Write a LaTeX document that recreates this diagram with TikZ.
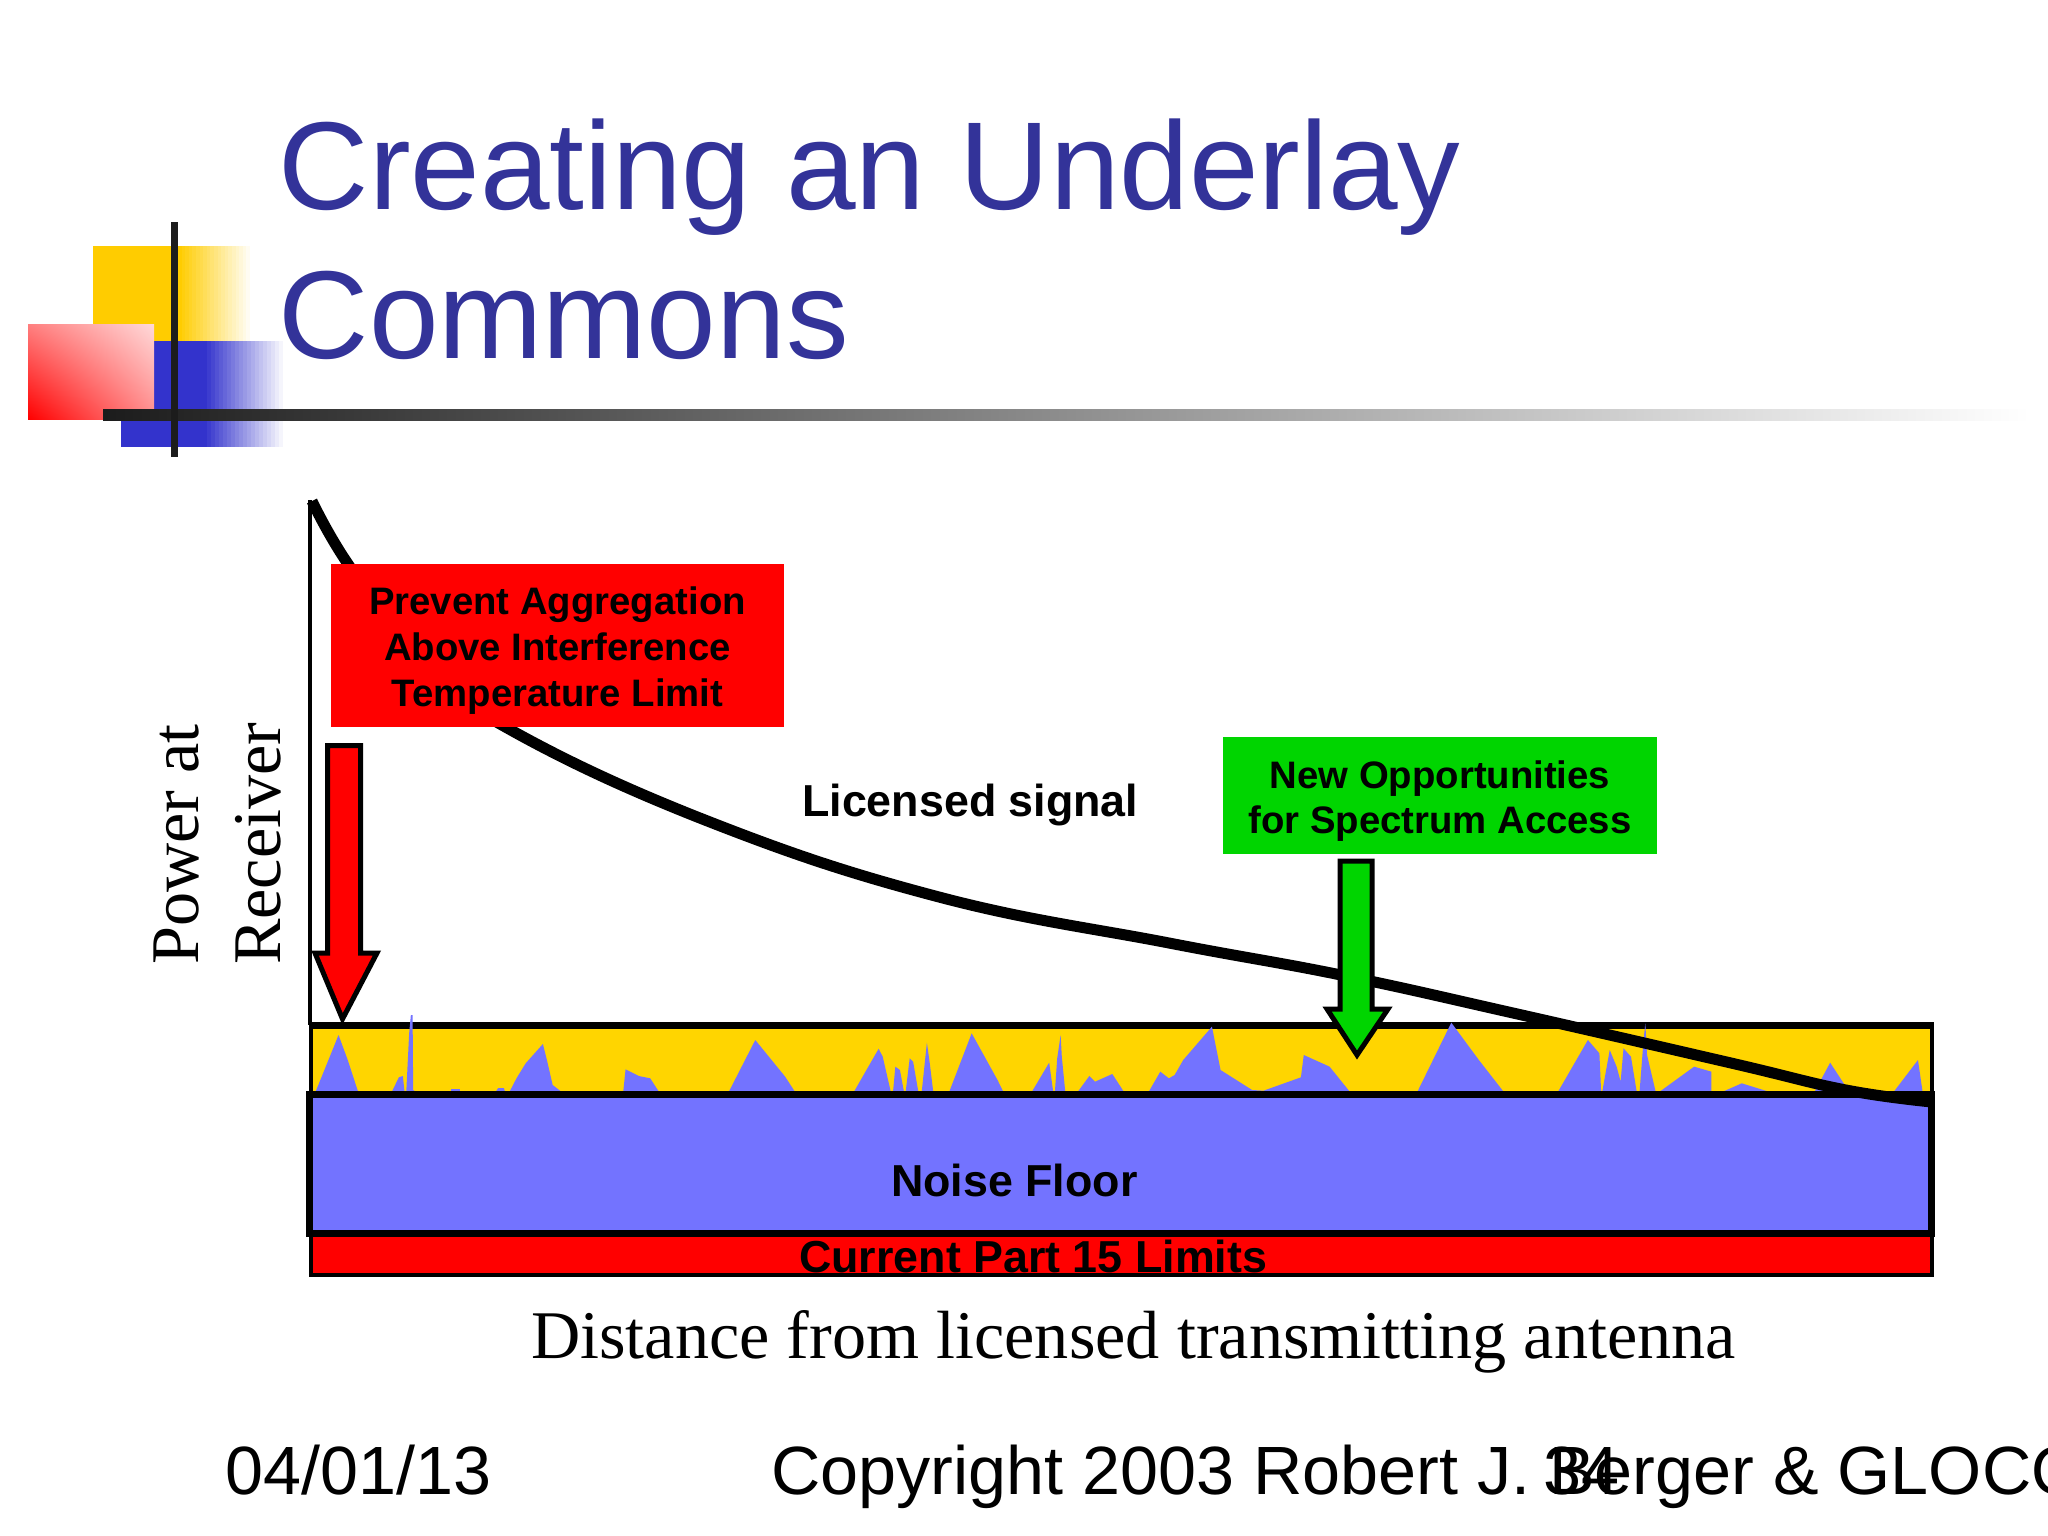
\documentclass[tikz,border=0pt]{standalone}
\usepackage{fontspec}
\usetikzlibrary{shadings}
\setmainfont{Liberation Sans}
\newfontfamily\timesf{Liberation Serif}
\definecolor{titleblue}{HTML}{333399}
\definecolor{logoyellow}{HTML}{FFCC00}
\definecolor{logoblue}{HTML}{3333CC}
\definecolor{logobar}{HTML}{1C1C1C}
\definecolor{bandyellow}{HTML}{FFD500}
\definecolor{noiseblue}{HTML}{7373FF}
\definecolor{boxgreen}{HTML}{00D500}
\definecolor{boxred}{HTML}{FF0000}
\tikzset{
  titletext/.style={anchor=base west,inner sep=0pt,text=titleblue,font=\fontsize{125.1}{150}\selectfont},
  foottext/.style={anchor=base west,inner sep=0pt,font=\fontsize{68.3}{80}\selectfont},
  seriftext/.style={anchor=base west,inner sep=0pt,font=\timesf\fontsize{68.2}{80}\selectfont},
  labeltext/.style={anchor=base west,inner sep=0pt,font=\bfseries\fontsize{44.8}{50}\selectfont},
  callout/.style={inner sep=0pt,align=center},
  peak/.style={fill=noiseblue,draw=none},
  blockarrow/.style={line width=5pt,miter limit=10},
  signalcurve/.style={line width=11pt},
}
\begin{document}
\begin{tikzpicture}[x=1pt,y=-1pt]
\useasboundingbox (0,0) rectangle (2048,1536);
\clip (0,0) rectangle (2048,1536);
\fill[white] (0,0) rectangle (2048,1536);
% logo
\fill[logoyellow] (93,246) rectangle (178,341);
\foreach \i in {0,...,20} {
  \pgfmathsetmacro{\px}{178+\i*3.6}
  \pgfmathsetmacro{\pc}{100-5*\i}
  \fill[logoyellow!\pc!white] (\px,246) rectangle (250,341);
}
\fill[logoblue] (121,341) rectangle (203,447);
\foreach \i in {0,...,20} {
  \pgfmathsetmacro{\px}{203+\i*4}
  \pgfmathsetmacro{\pc}{100-5*\i}
  \fill[logoblue!\pc!white] (\px,341) rectangle (283,447);
}
\shade[lower left=red,upper right=white!85!red,upper left=red!50!white,lower right=red!45!white] (28,324) rectangle (154,419);
\shade[left color=logobar,right color=white] (103,409) rectangle (2030,420);
\fill[logobar] (170.7,222) rectangle (177.7,457);
% title
\node[titletext] (title1) at (278.5,209) {Creating an Underlay};
\node[titletext] (title2) at (278.5,358) {Commons};
% axis
\draw[line width=4pt] (310,500) -- (310,1025);
% bands
\fill[bandyellow] (312,1025) rectangle (1931,1094);
\draw[line width=7pt] (312,1025.5) -- (1932,1025.5);
\draw[line width=4pt] (1931.5,1022) -- (1931.5,1094);
\draw[line width=4pt] (311,1022) -- (311,1094);
% peaks, left part
\begin{scope}[shift={(280,1000)},xscale=0.574,yscale=0.3333]
\fill[peak] (62,275)--(75,220)--(102,105)--(118,180)--(136,275)--cycle;
\fill[peak] (195,275)--(207,232)--(214,228)--(217,275)--cycle;
\fill[peak] (220,275)--(225,100)--(228,45)--(231,45)--(232,270)--(236,275)--cycle;
\fill[peak] (298,275)--(298,268)--(314,268)--(314,275)--cycle;
\fill[peak] (376,275)--(380,264)--(390,264)--(392,275)--cycle;
\fill[peak] (400,275)--(412,235)--(428,190)--(458,132)--(465,180)--(475,255)--(490,275)--cycle;
\fill[peak] (598,275)--(602,208)--(625,228)--(645,235)--(660,275)--cycle;
\fill[peak] (782,275)--(828,120)--(880,230)--(897,275)--cycle;
\fill[peak] (1000,275)--(1043,146)--(1050,170)--(1064,275)--cycle;
\fill[peak] (1068,275)--(1072,200)--(1080,210)--(1087,275)--cycle;
\fill[peak] (1090,275)--(1097,175)--(1103,185)--(1112,275)--cycle;
\fill[peak] (1118,275)--(1127,128)--(1132,190)--(1138,275)--cycle;
\fill[peak] (1166,275)--(1205,100)--(1250,240)--(1260,275)--cycle;
\fill[peak] (1310,275)--(1340,188)--(1347,275)--cycle;
\fill[peak] (1350,275)--(1354,175)--(1360,105)--(1362,170)--(1368,275)--cycle;
\fill[peak] (1390,275)--(1410,228)--(1420,245)--(1450,222)--(1470,275)--cycle;
\end{scope}
% peaks, right part
\begin{scope}[shift={(1100,1000)},xscale=0.574,yscale=0.3333]
\fill[peak] (85,275)--(105,215)--(120,235)--(130,225)--(145,180)--(195,80)--(210,210)--(265,270)--(285,272)--(350,232)--(355,165)--(400,200)--(435,275)--cycle;
\fill[peak] (553,275)--(612,68)--(660,180)--(703,275)--cycle;
\fill[peak] (798,275)--(850,120)--(870,160)--(873,275)--cycle;
\fill[peak] (875,275)--(888,150)--(900,200)--(907,245)--(912,145)--(925,170)--(935,275)--cycle;
\fill[peak] (940,275)--(947,120)--(950,70)--(953,165)--(968,275)--cycle;
\fill[peak] (975,275)--(1035,200)--(1065,215)--(1065,275)--cycle;
\fill[peak] (1085,275)--(1118,250)--(1165,275)--cycle;
\fill[peak] (1245,275)--(1272,188)--(1305,275)--cycle;
\fill[peak] (1383,275)--(1425,180)--(1433,275)--cycle;
\end{scope}
% red limit band and noise floor
\filldraw[fill=boxred,line width=4pt] (311,1233) rectangle (1931.5,1275);
\filldraw[fill=noiseblue,line width=7.5pt] (309.5,1094.5) rectangle (1931.5,1233.5);
% licensed signal curve
\draw[signalcurve] plot[smooth,tension=0.7] coordinates {(312,501) (348,564) (420,660) (509,729) (710,822) (939,897) (1169,943) (1341,975) (1513,1013) (1731,1063) (1846,1090) (1932,1102)};
% arrows
\filldraw[fill=boxred,blockarrow] (327.5,745.5) -- (360.5,745.5) -- (360.5,953) -- (377,953) -- (342.5,1019) -- (315,953) -- (327.5,953) -- cycle;
\filldraw[fill=boxgreen,blockarrow] (1340,861) -- (1372,861) -- (1372,1009) -- (1388,1009) -- (1357,1055) -- (1327,1009) -- (1340,1009) -- cycle;
% boxes
\node[callout,fill=boxred,minimum width=453pt,minimum height=163pt] (prevent) at (557.5,645.5) {};
\node[callout,font=\bfseries\fontsize{38.3}{46}\selectfont] (preventtext) at (557.5,650.5) {Prevent Aggregation\\Above Interference\\Temperature Limit};
\node[callout,fill=boxgreen,minimum width=434pt,minimum height=117pt] (newopp) at (1440,795.5) {};
\node[callout,font=\bfseries\fontsize{38.3}{45}\selectfont] (newopptext) at (1440,801.5) {New Opportunities\\for Spectrum Access};
% labels
\node[labeltext] (licensed) at (802,816) {Licensed signal};
\node[labeltext] (noise) at (891,1196) {Noise Floor};
\node[labeltext] (part15) at (799,1272) {Current Part 15 Limits};
\node[seriftext,rotate=90] (power) at (198,965) {Power at};
\node[seriftext,rotate=90] (receiver) at (280,965) {Receiver};
\node[seriftext] (distance) at (531,1358) {Distance from licensed transmitting antenna};
% footer
\node[foottext] (date) at (225.5,1494) {04/01/13};
\node[foottext] (copyright) at (771,1494) {Copyright 2003 Robert J. Berger \& GLOCO};
\node[foottext] (pagenum) at (1543,1494) {34};
\end{tikzpicture}
\end{document}
